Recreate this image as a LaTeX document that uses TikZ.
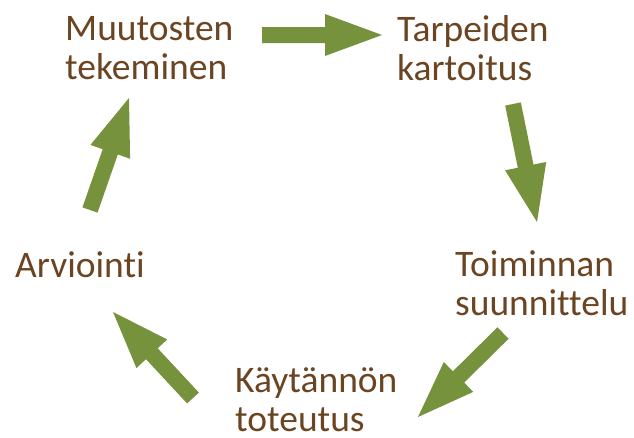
\documentclass[tikz,border=0pt]{standalone}
\usepackage{fontspec}
\setmainfont[Ligatures=NoCommon]{Carlito}
\usepackage{tikz}
\usetikzlibrary{calc}
\definecolor{phasebrown}{HTML}{6B4422}
\definecolor{arrowgreen}{HTML}{76923C}
\tikzset{phase/.style={anchor=base west, inner sep=0pt, align=left, text=phasebrown,
  font=\fontsize{37.5}{39}\selectfont}}
\tikzset{cycle arrow/.style={fill=arrowgreen}}
% block arrow from tail coordinate #1 to tip coordinate #2
\newcommand{\blockarrow}[2]{%
  \coordinate (hb) at ($(#2)!57pt!(#1)$);
  \fill[cycle arrow] ($(#1)!8pt!90:(#2)$) -- ($(hb)!8pt!90:(#2)$) -- ($(hb)!21pt!90:(#2)$)
    -- (#2) -- ($(hb)!21pt!-90:(#2)$) -- ($(hb)!8pt!-90:(#2)$) -- ($(#1)!8pt!-90:(#2)$) -- cycle;}

\begin{document}
\begin{tikzpicture}[x=1pt, y=-1pt]
\useasboundingbox (0,0) rectangle (634,437);
% anchors sit on the baseline of the last line
\node[phase] (muutos) at (65,79) {Muutosten\\tekeminen};
\node[phase] (tarpeet) at (397,80) {Tarpeiden\\kartoitus};
\node[phase] (suunnittelu) at (455,315) {Toiminnan\\suunnittelu};
\node[phase, text depth=0pt] (toteutus) at (235,431) {Käytännön\\toteutus};
\node[phase] (arviointi) at (15,277) {Arviointi};
\coordinate (a1) at (262,35);  \coordinate (b1) at (382,35);
\coordinate (a2) at (513,104); \coordinate (b2) at (537,222);
\coordinate (a3) at (503,333); \coordinate (b3) at (418,417);
\coordinate (a4) at (193,398); \coordinate (b4) at (113,312);
\coordinate (a5) at (90,210);  \coordinate (b5) at (129,98);
\blockarrow{a1}{b1}
\blockarrow{a2}{b2}
\blockarrow{a3}{b3}
\blockarrow{a4}{b4}
\blockarrow{a5}{b5}
\end{tikzpicture}
\end{document}
